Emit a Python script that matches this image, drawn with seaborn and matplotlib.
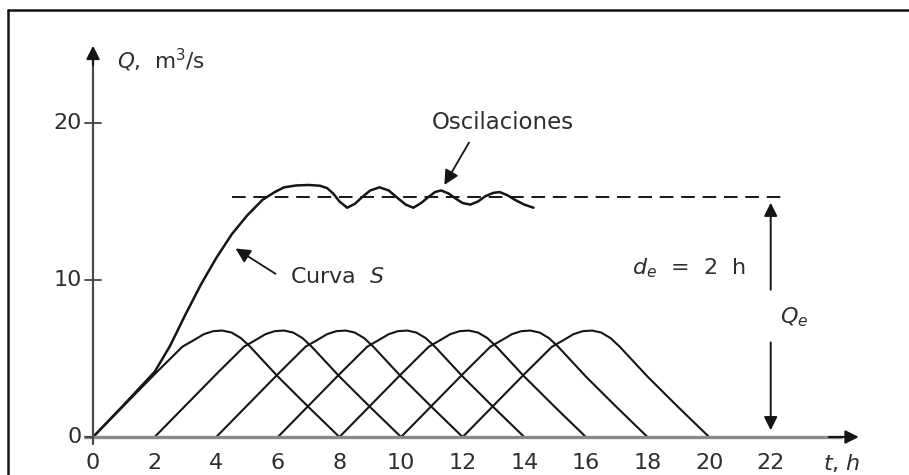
import numpy as np
import pandas as pd
import matplotlib
matplotlib.use("Agg")
import matplotlib.pyplot as plt
from matplotlib.lines import Line2D
import seaborn as sns

# Unit hydrograph (de = 2 h), time since start of each block and discharge
uh_tau = [0.0, 1.0, 2.0, 2.9, 3.3, 3.6, 3.9, 4.2, 4.5, 4.8, 5.1, 6.0, 7.0, 8.0]
uh_q = [0.0, 2.0, 4.0, 5.75, 6.2, 6.55, 6.74, 6.78, 6.65, 6.3, 5.75, 3.85, 1.9, 0.0]

# Start times of the lagged hydrographs
starts = [0, 2, 4, 6, 8, 10, 12]

# S-curve with its oscillations
s_t = [0.0, 1.0, 2.0, 2.5, 3.0, 3.5, 4.0, 4.5, 5.0, 5.5, 5.9, 6.2, 6.6, 7.0, 7.37,
       7.6, 7.8, 8.0, 8.25, 8.5, 8.75, 9.0, 9.3, 9.6, 9.9, 10.15, 10.4, 10.65,
       10.9, 11.1, 11.3, 11.55, 11.8, 12.0, 12.25, 12.5, 12.75, 13.0, 13.2,
       13.45, 13.7, 14.0, 14.3]
s_q = [0.0, 2.05, 4.15, 5.8, 7.8, 9.7, 11.4, 12.9, 14.1, 15.1, 15.6, 15.9, 16.02,
       16.05, 16.0, 15.85, 15.5, 15.0, 14.6, 14.85, 15.3, 15.7, 15.9, 15.7, 15.2,
       14.8, 14.6, 14.9, 15.3, 15.6, 15.7, 15.5, 15.15, 14.9, 14.8, 15.0, 15.35,
       15.55, 15.6, 15.4, 15.1, 14.8, 14.6]

# Equilibrium discharge line
qe = 15.3
qe_t = [4.5, 22.5]

x_ticks = [0, 2, 4, 6, 8, 10, 12, 14, 16, 18, 20, 22]
y_ticks = [0, 10, 20]

sns.set_theme(style="white")
plt.rcParams["font.family"] = ["DejaVu Sans"]
plt.rcParams["mathtext.fontset"] = "dejavusans"

fig, ax = plt.subplots(figsize=(9.09, 4.75), dpi=100)
ax.set_position([0, 0, 1, 1])
ax.set_axis_off()
ax.set_xlim(-3.02, 26.49)
ax.set_ylim(-2.42, 27.83)

ink = "#151515"
txt = "#2e2e2e"

# Lagged unit hydrographs
rows = []
for k, s in enumerate(starts):
    for tau, q in zip(uh_tau, uh_q):
        rows.append({"t": s + tau, "Q": q, "hidrograma": k})
df = pd.DataFrame(rows)
sns.lineplot(data=df, x="t", y="Q", units="hidrograma", estimator=None,
             color=ink, lw=1.5, ax=ax, legend=False)

# S-curve
sns.lineplot(x=s_t, y=s_q, sort=False, color=ink, lw=1.8, ax=ax)

# Equilibrium line
ax.plot(qe_t, [qe, qe], color=ink, lw=1.4, dashes=(7, 4))

# Axes with arrows
ax.plot([-0.3, 24.3], [0, 0], color="#8a8a8a", lw=2.4, solid_capstyle="butt")
ax.annotate("", xy=(24.95, 0), xytext=(23.8, 0),
            arrowprops=dict(arrowstyle="-|>", color=ink, lw=1.5, mutation_scale=20))
ax.plot([0, 0], [-0.45, 24.0], color="#4a4a4a", lw=1.6)
ax.annotate("", xy=(0, 25.1), xytext=(0, 23.5),
            arrowprops=dict(arrowstyle="-|>", color=ink, lw=1.5, mutation_scale=20))

for y in y_ticks:
    ax.plot([-0.27, 0.0 if y == 0 else 0.25], [y, y], color="#444", lw=1.3)
    ax.text(-0.36, y, str(y), ha="right", va="center", fontsize=16, color=txt)
for x in x_ticks:
    ax.text(x, -1.66, str(x), ha="center", va="center", fontsize=16, color=txt)

ax.text(0.78, 24.0, r"$Q$,  m$^3$/s", ha="left", va="center", fontsize=15.5, color=txt)
ax.text(24.3, -1.66, r"$t$, $h$", ha="center", va="center", fontsize=16, color=txt)

# Annotations
ax.text(6.4, 10.2, r"Curva  $S$", ha="left", va="center", fontsize=16, color=txt)
ax.annotate("", xy=(4.55, 12.1), xytext=(6.0, 10.3),
            arrowprops=dict(arrowstyle="-|>", color=ink, lw=1.3, mutation_scale=22))

ax.text(11.0, 20.0, "Oscilaciones", ha="left", va="center", fontsize=16.5, color=txt)
ax.annotate("", xy=(11.36, 15.9), xytext=(12.25, 18.9),
            arrowprops=dict(arrowstyle="-|>", color=ink, lw=1.3, mutation_scale=22))

ax.text(17.5, 10.76, r"$d_e$  =  2  h", ha="left", va="center", fontsize=16, color=txt)

ax.annotate("", xy=(22, 15.1), xytext=(22, 9.2),
            arrowprops=dict(arrowstyle="-|>", color=ink, lw=1.4, mutation_scale=20))
ax.annotate("", xy=(22, 0.25), xytext=(22, 6.2),
            arrowprops=dict(arrowstyle="-|>", color=ink, lw=1.4, mutation_scale=20))
ax.text(22.3, 7.6, r"$Q_e$", ha="left", va="center", fontsize=16, color=txt)

# Outer frame
fx, fy = 8 / 909, 1 - 10 / 475
fig.add_artist(Line2D([fx, fx], [0, fy], transform=fig.transFigure, color=ink, lw=1.8))
fig.add_artist(Line2D([fx, 1], [fy, fy], transform=fig.transFigure, color=ink, lw=1.8))

fig.savefig("out.png", dpi=100)
